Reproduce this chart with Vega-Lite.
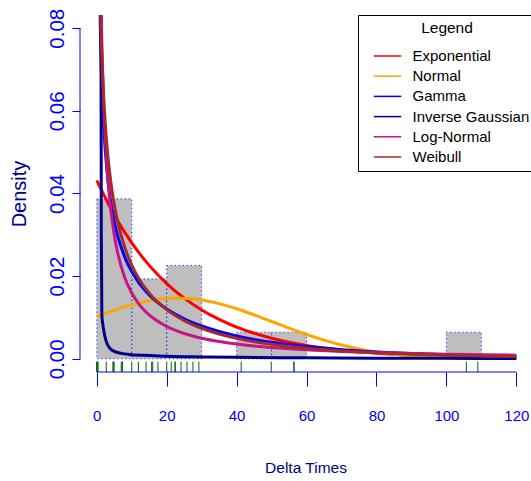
{
  "$schema": "https://vega.github.io/schema/vega-lite/v6.json",
  "width": 451,
  "height": 357,
  "autosize": {"type": "none"},
  "padding": {"left": 80, "top": 15, "right": 0, "bottom": 109},
  "background": "white",
  "config": {"view": {"stroke": null}, "font": "Liberation Sans"},
  "datasets": {
    "bars": [
      {"x": 0, "x2": 10, "y": 0.0387},
      {"x": 10, "x2": 20, "y": 0.01935},
      {"x": 20, "x2": 30, "y": 0.02258},
      {"x": 40, "x2": 50, "y": 0.00645},
      {"x": 50, "x2": 60, "y": 0.00645},
      {"x": 100, "x2": 110, "y": 0.00645}
    ],
    "rug": [
      {"x": 0}, {"x": 0}, {"x": 0.3}, {"x": 0.3}, {"x": 2.7}, {"x": 4.6}, {"x": 4.9}, {"x": 4.9},
      {"x": 7.0}, {"x": 7.3}, {"x": 7.3}, {"x": 10.0}, {"x": 11.9}, {"x": 14.1}, {"x": 15.7}, {"x": 16.0},
      {"x": 17.5}, {"x": 20.0}, {"x": 21.3}, {"x": 22.4}, {"x": 22.4}, {"x": 24.1}, {"x": 25.8}, {"x": 27.5},
      {"x": 29.2}, {"x": 41.3}, {"x": 49.9}, {"x": 56.4}, {"x": 56.4}, {"x": 105.7}, {"x": 109.0}
    ],
    "curves": [
      {"d": "Exponential", "x": 0, "y": 0.0432},
      {"d": "Exponential", "x": 5, "y": 0.03481},
      {"d": "Exponential", "x": 10, "y": 0.02804},
      {"d": "Exponential", "x": 15, "y": 0.0226},
      {"d": "Exponential", "x": 20, "y": 0.01821},
      {"d": "Exponential", "x": 25, "y": 0.01467},
      {"d": "Exponential", "x": 30, "y": 0.01182},
      {"d": "Exponential", "x": 35, "y": 0.00952},
      {"d": "Exponential", "x": 40, "y": 0.00767},
      {"d": "Exponential", "x": 45, "y": 0.00618},
      {"d": "Exponential", "x": 50, "y": 0.00498},
      {"d": "Exponential", "x": 55, "y": 0.00401},
      {"d": "Exponential", "x": 60, "y": 0.00323},
      {"d": "Exponential", "x": 70, "y": 0.0021},
      {"d": "Exponential", "x": 80, "y": 0.00136},
      {"d": "Exponential", "x": 90, "y": 0.000885},
      {"d": "Exponential", "x": 100, "y": 0.000575},
      {"d": "Exponential", "x": 110, "y": 0.000373},
      {"d": "Exponential", "x": 120, "y": 0.000242},
      {"d": "Normal", "x": 0, "y": 0.010196},
      {"d": "Normal", "x": 5, "y": 0.011725},
      {"d": "Normal", "x": 10, "y": 0.013038},
      {"d": "Normal", "x": 15, "y": 0.014016},
      {"d": "Normal", "x": 20, "y": 0.014566},
      {"d": "Normal", "x": 25, "y": 0.014635},
      {"d": "Normal", "x": 30, "y": 0.014216},
      {"d": "Normal", "x": 35, "y": 0.01335},
      {"d": "Normal", "x": 40, "y": 0.012119},
      {"d": "Normal", "x": 45, "y": 0.010638},
      {"d": "Normal", "x": 50, "y": 0.009026},
      {"d": "Normal", "x": 55, "y": 0.007405},
      {"d": "Normal", "x": 60, "y": 0.005873},
      {"d": "Normal", "x": 65, "y": 0.004503},
      {"d": "Normal", "x": 70, "y": 0.003338},
      {"d": "Normal", "x": 75, "y": 0.002392},
      {"d": "Normal", "x": 80, "y": 0.001657},
      {"d": "Normal", "x": 90, "y": 0.000719},
      {"d": "Normal", "x": 100, "y": 0.000273},
      {"d": "Normal", "x": 110, "y": 0.00009},
      {"d": "Normal", "x": 120, "y": 0.000026},
      {"d": "Gamma", "x": 0.5, "y": 0.1156},
      {"d": "Gamma", "x": 1, "y": 0.0809},
      {"d": "Gamma", "x": 1.5, "y": 0.06534},
      {"d": "Gamma", "x": 2, "y": 0.05598},
      {"d": "Gamma", "x": 3, "y": 0.04474},
      {"d": "Gamma", "x": 4, "y": 0.03792},
      {"d": "Gamma", "x": 5, "y": 0.0332},
      {"d": "Gamma", "x": 6, "y": 0.02966},
      {"d": "Gamma", "x": 8, "y": 0.02461},
      {"d": "Gamma", "x": 10, "y": 0.02109},
      {"d": "Gamma", "x": 12, "y": 0.01844},
      {"d": "Gamma", "x": 15, "y": 0.01547},
      {"d": "Gamma", "x": 20, "y": 0.01203},
      {"d": "Gamma", "x": 25, "y": 0.009666},
      {"d": "Gamma", "x": 30, "y": 0.007926},
      {"d": "Gamma", "x": 35, "y": 0.006592},
      {"d": "Gamma", "x": 40, "y": 0.005539},
      {"d": "Gamma", "x": 45, "y": 0.004691},
      {"d": "Gamma", "x": 50, "y": 0.003997},
      {"d": "Gamma", "x": 60, "y": 0.002945},
      {"d": "Gamma", "x": 70, "y": 0.0022},
      {"d": "Gamma", "x": 80, "y": 0.00166},
      {"d": "Gamma", "x": 90, "y": 0.001263},
      {"d": "Gamma", "x": 100, "y": 0.000967},
      {"d": "Gamma", "x": 110, "y": 0.000744},
      {"d": "Gamma", "x": 120, "y": 0.000575},
      {"d": "Inverse Gaussian", "x": 1.12, "y": 0.12},
      {"d": "Inverse Gaussian", "x": 1.3, "y": 0.03},
      {"d": "Inverse Gaussian", "x": 1.45, "y": 0.0105},
      {"d": "Inverse Gaussian", "x": 1.7, "y": 0.0085},
      {"d": "Inverse Gaussian", "x": 2.0, "y": 0.0068},
      {"d": "Inverse Gaussian", "x": 2.7, "y": 0.0042},
      {"d": "Inverse Gaussian", "x": 3.6, "y": 0.0027},
      {"d": "Inverse Gaussian", "x": 5, "y": 0.0018},
      {"d": "Inverse Gaussian", "x": 7, "y": 0.0013},
      {"d": "Inverse Gaussian", "x": 10, "y": 0.001},
      {"d": "Inverse Gaussian", "x": 15, "y": 0.0008},
      {"d": "Inverse Gaussian", "x": 20, "y": 0.0006},
      {"d": "Inverse Gaussian", "x": 30, "y": 0.00045},
      {"d": "Inverse Gaussian", "x": 40, "y": 0.00035},
      {"d": "Inverse Gaussian", "x": 60, "y": 0.00022},
      {"d": "Inverse Gaussian", "x": 80, "y": 0.00015},
      {"d": "Inverse Gaussian", "x": 100, "y": 0.0001},
      {"d": "Inverse Gaussian", "x": 120, "y": 0.00007},
      {"d": "Log-Normal", "x": 0.5, "y": 0.1412},
      {"d": "Log-Normal", "x": 1, "y": 0.09679},
      {"d": "Log-Normal", "x": 1.5, "y": 0.07489},
      {"d": "Log-Normal", "x": 2, "y": 0.06145},
      {"d": "Log-Normal", "x": 3, "y": 0.04546},
      {"d": "Log-Normal", "x": 4, "y": 0.03613},
      {"d": "Log-Normal", "x": 5, "y": 0.02995},
      {"d": "Log-Normal", "x": 6, "y": 0.02555},
      {"d": "Log-Normal", "x": 8, "y": 0.01967},
      {"d": "Log-Normal", "x": 10, "y": 0.01591},
      {"d": "Log-Normal", "x": 12, "y": 0.0133},
      {"d": "Log-Normal", "x": 15, "y": 0.0106},
      {"d": "Log-Normal", "x": 20, "y": 0.00782},
      {"d": "Log-Normal", "x": 25, "y": 0.006125},
      {"d": "Log-Normal", "x": 30, "y": 0.004985},
      {"d": "Log-Normal", "x": 35, "y": 0.004171},
      {"d": "Log-Normal", "x": 40, "y": 0.003563},
      {"d": "Log-Normal", "x": 45, "y": 0.003093},
      {"d": "Log-Normal", "x": 50, "y": 0.002721},
      {"d": "Log-Normal", "x": 60, "y": 0.00217},
      {"d": "Log-Normal", "x": 70, "y": 0.001785},
      {"d": "Log-Normal", "x": 80, "y": 0.001503},
      {"d": "Log-Normal", "x": 90, "y": 0.001288},
      {"d": "Log-Normal", "x": 100, "y": 0.001119},
      {"d": "Log-Normal", "x": 110, "y": 0.000985},
      {"d": "Log-Normal", "x": 120, "y": 0.000875},
      {"d": "Weibull", "x": 0.5, "y": 0.1185},
      {"d": "Weibull", "x": 1, "y": 0.08779},
      {"d": "Weibull", "x": 1.5, "y": 0.07262},
      {"d": "Weibull", "x": 2, "y": 0.06294},
      {"d": "Weibull", "x": 3, "y": 0.05068},
      {"d": "Weibull", "x": 4, "y": 0.04288},
      {"d": "Weibull", "x": 5, "y": 0.03731},
      {"d": "Weibull", "x": 6, "y": 0.03308},
      {"d": "Weibull", "x": 8, "y": 0.02695},
      {"d": "Weibull", "x": 10, "y": 0.02266},
      {"d": "Weibull", "x": 12, "y": 0.01945},
      {"d": "Weibull", "x": 15, "y": 0.01589},
      {"d": "Weibull", "x": 20, "y": 0.01189},
      {"d": "Weibull", "x": 25, "y": 0.00925},
      {"d": "Weibull", "x": 30, "y": 0.007387},
      {"d": "Weibull", "x": 35, "y": 0.006008},
      {"d": "Weibull", "x": 40, "y": 0.004962},
      {"d": "Weibull", "x": 45, "y": 0.004146},
      {"d": "Weibull", "x": 50, "y": 0.003499},
      {"d": "Weibull", "x": 60, "y": 0.002547},
      {"d": "Weibull", "x": 70, "y": 0.001901},
      {"d": "Weibull", "x": 80, "y": 0.001446},
      {"d": "Weibull", "x": 90, "y": 0.001117},
      {"d": "Weibull", "x": 100, "y": 0.000874},
      {"d": "Weibull", "x": 110, "y": 0.00069},
      {"d": "Weibull", "x": 120, "y": 0.000551}
    ]
  },
  "layer": [
    {
      "data": {"name": "bars"},
      "mark": {"type": "rect", "fill": "#BEBEBE", "stroke": "#0000FF", "strokeWidth": 1, "strokeDash": [1, 3]},
      "encoding": {
        "x": {
          "field": "x", "type": "quantitative",
          "scale": {"domain": [-4.8, 124.2], "nice": false, "zero": false},
          "axis": {
            "title": "Delta Times", "values": [0, 20, 40, 60, 80, 100, 120], "format": "d",
            "domain": false, "grid": false, "tickSize": 14, "tickColor": "#0000FF", "tickWidth": 1,
            "labelColor": "#0000FF", "labelFont": "Liberation Sans", "labelFontSize": 15,
            "labelBaseline": "alphabetic", "labelPadding": 34.7, "labelFlush": false, "labelOverlap": false,
            "titleFont": "Liberation Sans", "titleFontSize": 15.5, "titleColor": "#00008B",
            "titleFontWeight": "normal", "titleBaseline": "alphabetic", "titleY": 100
          }
        },
        "x2": {"field": "x2"},
        "y": {
          "field": "y", "type": "quantitative",
          "scale": {"domain": [-0.0032, 0.0832], "nice": false, "zero": false},
          "axis": {
            "title": "Density", "values": [0, 0.02, 0.04, 0.06, 0.08], "format": ".2f",
            "domain": false, "grid": false, "tickSize": 8, "tickColor": "#0000FF", "tickWidth": 1,
            "labelColor": "#0000FF", "labelFont": "Liberation Sans", "labelFontSize": 20.5,
            "labelAngle": -90, "labelAlign": "center", "labelBaseline": "alphabetic", "labelPadding": 9,
            "labelOverlap": false, "labelFlush": false,
            "titleFont": "Liberation Sans", "titleFontSize": 20, "titleColor": "#00008B",
            "titleFontWeight": "normal", "titleBaseline": "alphabetic", "titleX": -55
          }
        },
        "y2": {"datum": 0}
      }
    },
    {
      "data": {"name": "curves"},
      "mark": {"type": "line", "strokeWidth": 3, "clip": true, "interpolate": "monotone"},
      "encoding": {
        "x": {"field": "x", "type": "quantitative"},
        "y": {"field": "y", "type": "quantitative"},
        "color": {
          "field": "d", "type": "nominal",
          "scale": {
            "domain": ["Exponential", "Normal", "Gamma", "Inverse Gaussian", "Log-Normal", "Weibull"],
            "range": ["#FF0000", "#FFA500", "#0000FF", "#00008B", "#C71585", "#A52A2A"]
          },
          "legend": {
            "orient": "none", "legendX": 278, "legendY": 0,
            "title": "Legend", "titleFont": "Liberation Sans", "titleFontSize": 15.5,
            "titleFontWeight": "normal", "titleColor": "black", "titleAnchor": "middle", "titlePadding": 12,
            "labelFont": "Liberation Sans", "labelFontSize": 15, "labelColor": "black",
            "labelLimit": 400, "labelOffset": 17.5,
            "symbolType": "M-2.5,0L2.5,0", "symbolSize": 121, "symbolStrokeWidth": 1.5, "symbolOffset": 16,
            "rowPadding": 4.2, "padding": 6, "strokeColor": "black", "fillColor": "white", "cornerRadius": 0
          }
        },
        "order": {"field": "x", "type": "quantitative"}
      }
    },
    {
      "data": {"name": "rug"},
      "mark": {"type": "rule", "color": "#006400", "strokeWidth": 1},
      "encoding": {
        "x": {"field": "x", "type": "quantitative"},
        "y": {"datum": -0.0032},
        "y2": {"datum": -0.0007}
      }
    },
    {
      "data": {"values": [{}]},
      "mark": {"type": "rule", "color": "#0000FF", "strokeWidth": 1},
      "encoding": {
        "x": {"datum": 0},
        "x2": {"datum": 120},
        "y": {"datum": -0.0032}
      }
    },
    {
      "data": {"values": [{}]},
      "mark": {"type": "rule", "color": "#0000FF", "strokeWidth": 1},
      "encoding": {
        "x": {"datum": -4.8},
        "y": {"datum": 0},
        "y2": {"datum": 0.08}
      }
    }
  ]
}
